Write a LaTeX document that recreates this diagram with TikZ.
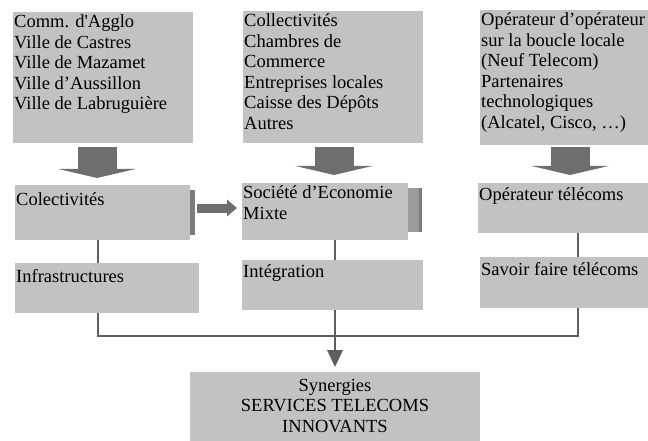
\documentclass[tikz,border=0pt]{standalone}
\usepackage{fontspec}
\setmainfont{Liberation Serif}
\usetikzlibrary{arrows.meta,calc}
\definecolor{boxgray}{HTML}{C2C2C2}
\definecolor{arrowgray}{HTML}{6E6E6E}
\definecolor{linegray}{HTML}{5E5E5E}
\definecolor{shadowgray}{HTML}{7C7C7C}
\definecolor{edgegray}{HTML}{9C9C9C}

\begin{document}
\begin{tikzpicture}[x=1pt,y=-1pt,
  box/.style={fill=boxgray,anchor=north west,inner sep=0pt,outer sep=0pt},
  txt/.style={anchor=north west,align=left,inner xsep=1pt,inner ysep=2.5pt,font=\fontsize{18.5}{20.5}\selectfont},
  link/.style={draw=linegray,line width=2.6pt},
  fatarrow/.style={draw=arrowgray,line width=39pt,-{Triangle[width=77pt,length=9pt,line width=0pt]}}]
  \useasboundingbox (0,0) rectangle (648,441);
  % columns of the connectors
  \coordinate (colA) at (98,0);
  \coordinate (colB) at (335,0);
  \coordinate (colC) at (578,0);
  \coordinate (fatA) at (97,0);
  \coordinate (fatB) at (334,0);
  \coordinate (fatC) at (570,0);
  \coordinate (rowM) at (0,208);
  \coordinate (bus) at (0,336);
  % partners
  \node[box,minimum width=180pt,minimum height=131pt,label={[txt]north west:{Comm. d\textquotesingle Agglo\\Ville de Castres\\Ville de Mazamet\\Ville d’Aussillon\\Ville de Labruguière}}] (agglo) at (13,12) {};
  \node[box,minimum width=180pt,minimum height=132pt,label={[txt]north west:{Collectivités\\Chambres de\\Commerce\\Entreprises locales\\Caisse des Dépôts\\Autres}}] (partners) at (243,11) {};
  \node[box,minimum width=168pt,minimum height=135pt,label={[txt]north west:{Opérateur d’opérateur\\sur la boucle locale\\(Neuf Telecom)\\Partenaires\\technologiques\\(Alcatel, Cisco, …)}}] (operators) at (480,10) {};
  % roles
  \fill[shadowgray] (190,190) rectangle (195,235);
  \fill[edgegray] (408,188) rectangle (422,232);
  \fill[shadowgray] (419,188) rectangle (422,232);
  \node[box,minimum width=175pt,minimum height=55pt,label={[txt,inner ysep=7pt]north west:{Colectivités}}] (colect) at (15,185) {};
  \node[box,minimum width=166pt,minimum height=57pt,label={[txt]north west:{Société d’Economie\\Mixte}}] (sem) at (242,183) {};
  \node[box,minimum width=170pt,minimum height=50pt,label={[txt,inner ysep=4pt]north west:{Opérateur télécoms}}] (ot) at (478,183) {};
  \node[box,minimum width=184pt,minimum height=50pt,label={[txt,inner ysep=6pt]north west:{Infrastructures}}] (infra) at (15,263) {};
  \node[box,minimum width=181pt,minimum height=50pt,label={[txt,inner ysep=4pt]north west:{Intégration}}] (integ) at (242,260) {};
  \node[box,minimum width=168pt,minimum height=51pt,label={[txt,inner ysep=5pt]north west:{Savoir faire télécoms}}] (savoir) at (480,257) {};
  \node[box,minimum width=290pt,minimum height=69pt,label={[txt,anchor=north,align=center,inner ysep=7pt]north:{Synergies\\SERVICES TELECOMS\\INNOVANTS}}] (synergies) at (190,372) {};
  % connectors
  \draw[fatarrow,shorten <=4pt,shorten >=7pt] (agglo.south -| fatA) -- (colect.north -| fatA);
  \draw[fatarrow,shorten <=4pt,shorten >=8pt] (partners.south -| fatB) -- (sem.north -| fatB);
  \draw[fatarrow,shorten <=2pt,shorten >=8pt] (operators.south -| fatC) -- (ot.north -| fatC);
  \draw[draw=arrowgray,line width=9pt,-{Triangle[width=17pt,length=10pt,line width=0pt]},shorten <=7pt,shorten >=5pt] (colect.east |- rowM) -- (sem.west |- rowM);
  \draw[link] (colect.south -| colA) -- (infra.north -| colA);
  \draw[link] (sem.south -| colB) -- (integ.north -| colB);
  \draw[link] (ot.south -| colC) -- (savoir.north -| colC);
  \draw[link] (infra.south -| colA) -- (colA |- bus) -- (colC |- bus) -- (savoir.south -| colC);
  \draw[link,-{Triangle[width=16pt,length=17pt,line width=0pt]},shorten >=5pt] (integ.south -| colB) -- (synergies.north -| colB);
\end{tikzpicture}
\end{document}
